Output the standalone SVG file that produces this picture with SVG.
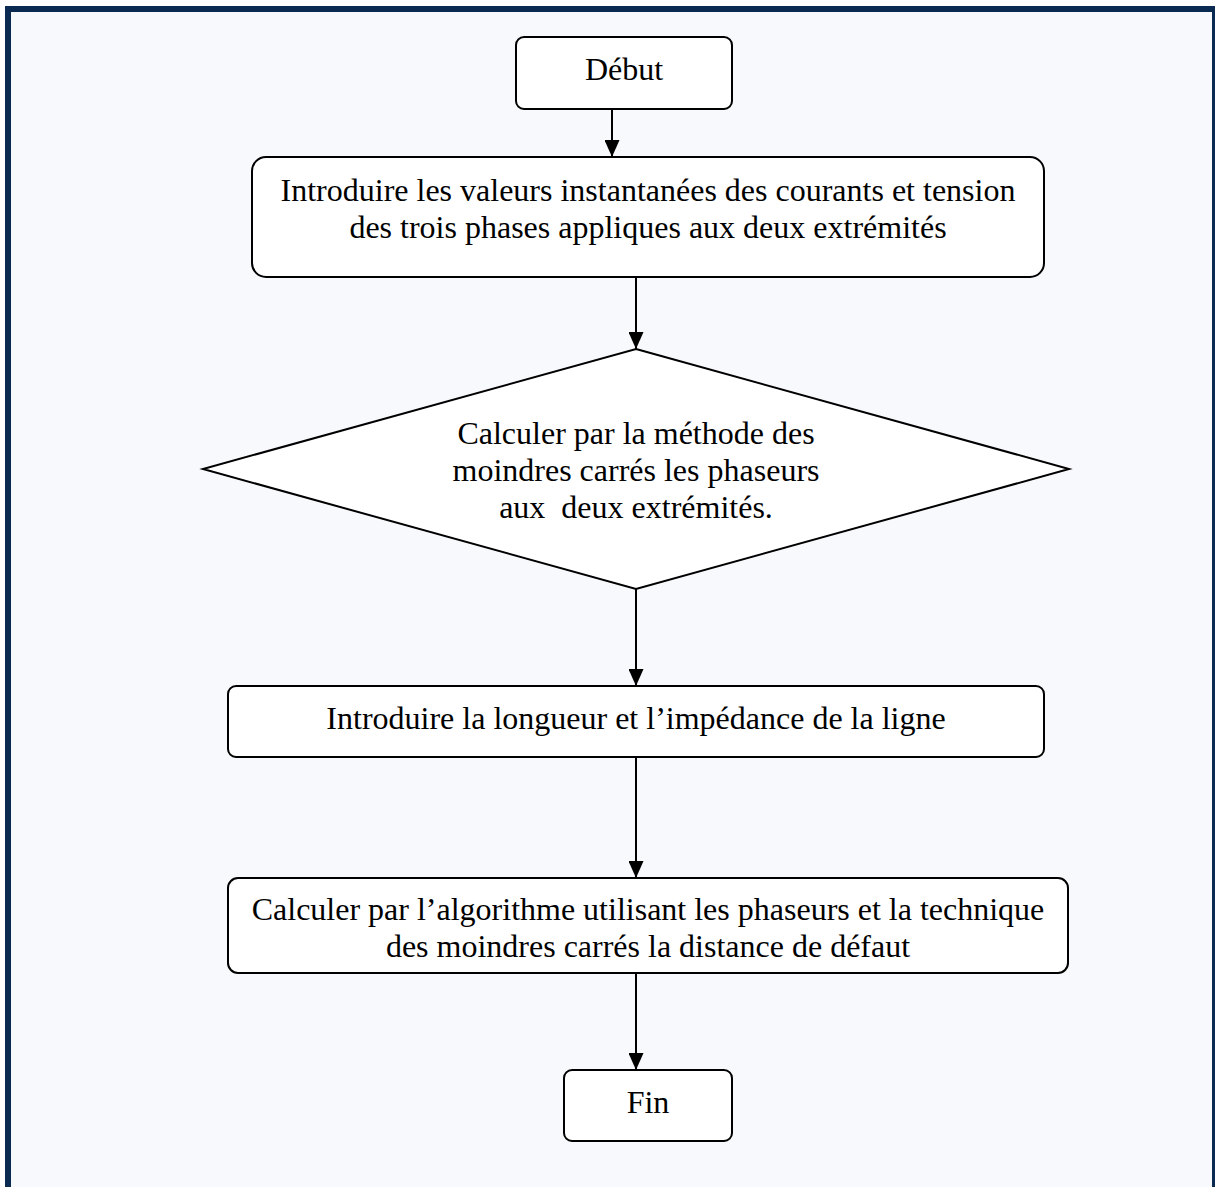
<svg xmlns="http://www.w3.org/2000/svg" width="1215" height="1187" viewBox="0 0 1215 1187">
<defs>
<style>
.node{fill:#ffffff;stroke:#000000;stroke-width:2}
.lbl{font-family:"Liberation Serif","Times New Roman",serif;font-size:32px;fill:#000000;text-anchor:middle}
.edge{stroke:#000000;stroke-width:2;fill:none}
</style>
<marker id="ah" markerWidth="17" markerHeight="15" refX="17" refY="7.5" orient="auto" markerUnits="userSpaceOnUse" viewBox="0 0 17 15">
<path d="M0,0 L17,7.5 L0,15 Z" fill="#000000"/>
</marker>
</defs>
<rect x="0" y="0" width="1215" height="1187" fill="#ffffff"/>
<rect x="8" y="9" width="1207" height="1200" fill="#f8f9fc" stroke="#0b2a52" stroke-width="6"/>
<g id="connectors">
<line class="edge" x1="612" y1="109" x2="612" y2="157" marker-end="url(#ah)"/>
<line class="edge" x1="636" y1="277" x2="636" y2="349" marker-end="url(#ah)"/>
<line class="edge" x1="636" y1="589" x2="636" y2="686" marker-end="url(#ah)"/>
<line class="edge" x1="636" y1="757" x2="636" y2="878" marker-end="url(#ah)"/>
<line class="edge" x1="636" y1="973" x2="636" y2="1070" marker-end="url(#ah)"/>
</g>
<g id="debut">
<rect class="node" x="516" y="37" width="216" height="72" rx="8"/>
<text class="lbl" x="624" y="80">Début</text>
</g>
<g id="introduire-valeurs">
<rect class="node" x="252" y="157" width="792" height="120" rx="14"/>
<text class="lbl" x="648" y="201">Introduire les valeurs instantanées des courants et tension</text>
<text class="lbl" x="648" y="238">des trois phases appliques aux deux extrémités</text>
</g>
<g id="calculer-phaseurs">
<polygon class="node" points="636,349 1069,469 636,589 203,469"/>
<text class="lbl" x="636" y="444">Calculer par la méthode des</text>
<text class="lbl" x="636" y="481">moindres carrés les phaseurs</text>
<text class="lbl" x="636" y="518" xml:space="preserve">aux  deux extrémités.</text>
</g>
<g id="introduire-longueur">
<rect class="node" x="228" y="686" width="816" height="71" rx="8"/>
<text class="lbl" x="636" y="729">Introduire la longueur et l’impédance de la ligne</text>
</g>
<g id="calculer-distance">
<rect class="node" x="228" y="878" width="840" height="95" rx="10"/>
<text class="lbl" x="648" y="920">Calculer par l’algorithme utilisant les phaseurs et la technique</text>
<text class="lbl" x="648" y="957">des moindres carrés la distance de défaut</text>
</g>
<g id="fin">
<rect class="node" x="564" y="1070" width="168" height="71" rx="8"/>
<text class="lbl" x="648" y="1113">Fin</text>
</g>
</svg>
